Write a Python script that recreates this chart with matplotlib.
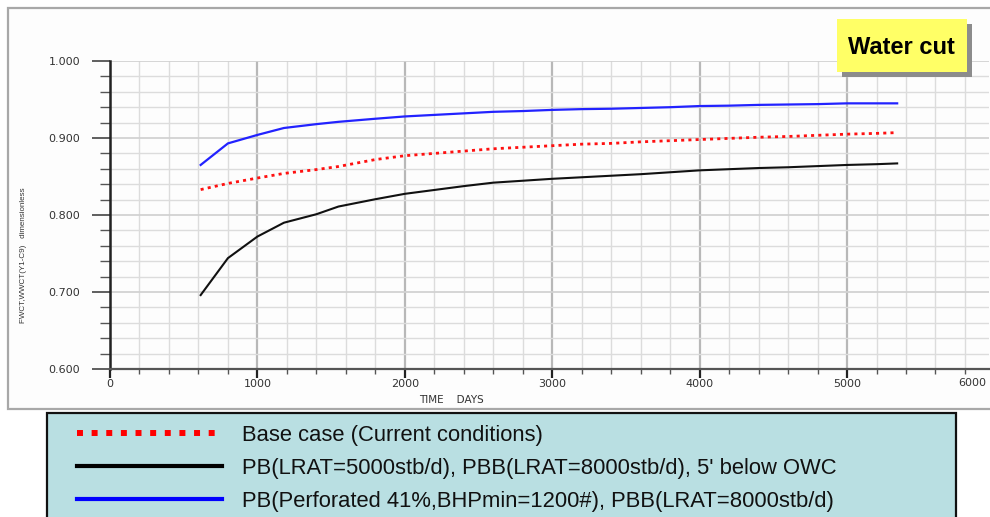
import matplotlib
matplotlib.use("Agg")
import matplotlib.pyplot as plt
from matplotlib.lines import Line2D
from matplotlib.patches import Rectangle
from matplotlib.ticker import MultipleLocator, FormatStrFormatter

# ---- data ----
days = [615, 800, 1000, 1180, 1400, 1550, 1800, 2000, 2200, 2400, 2600, 2800, 3000,
        3200, 3400, 3600, 3800, 4000, 4200, 4400, 4600, 4800, 5000, 5200, 5340]
base_case = [0.833, 0.841, 0.848, 0.854, 0.859, 0.863, 0.872, 0.877, 0.880, 0.883, 0.886,
             0.888, 0.890, 0.892, 0.893, 0.895, 0.8965, 0.898, 0.8995, 0.901, 0.902,
             0.9035, 0.905, 0.906, 0.907]
pb_lrat = [0.696, 0.744, 0.772, 0.790, 0.801, 0.811, 0.8205, 0.8275, 0.8325, 0.8375, 0.842,
           0.8445, 0.847, 0.849, 0.851, 0.853, 0.8555, 0.858, 0.8595, 0.861, 0.862,
           0.8635, 0.865, 0.866, 0.867]
pb_perf = [0.865, 0.893, 0.904, 0.913, 0.918, 0.921, 0.925, 0.928, 0.930, 0.932, 0.934,
           0.935, 0.9365, 0.9375, 0.938, 0.939, 0.940, 0.9415, 0.942, 0.943, 0.9435,
           0.944, 0.945, 0.945, 0.945]
series_labels = ["Base case (Current conditions)",
                 "PB(LRAT=5000stb/d), PBB(LRAT=8000stb/d), 5' below OWC",
                 "PB(Perforated 41%,BHPmin=1200#), PBB(LRAT=8000stb/d)"]
title_text = "Water cut"
x_label = "TIME    DAYS"
y_label = "FWCT,WWCT(Y1-C9)   dimensionless"

W, H = 990, 517
fig = plt.figure(figsize=(W / 100, H / 100), dpi=100)
fig.patch.set_facecolor("white")

def fx(px):
    return px / W

def fy(py):
    return 1 - py / H

# outer frame of the plot panel
fig.patches.append(Rectangle((fx(8), fy(409)), fx(1100), fy(8) - fy(409),
                             transform=fig.transFigure, facecolor="#FDFDFD",
                             edgecolor="#A8A8A8", lw=1.6, zorder=0))

ax = fig.add_axes([fx(110), fy(369), fx(989 - 110), fy(61) - fy(369)])
ax.set_zorder(3)
ax.set_facecolor("#FDFDFD")

ax.plot(days, pb_perf, color="#2222FF", lw=1.6, zorder=3)
ax.plot(days, base_case, color="#FF1010", lw=2.0, linestyle=(0, (1.1, 1.5)), zorder=3)
ax.plot(days, pb_lrat, color="#111111", lw=1.5, zorder=3)

ax.set_xlim(0, 5963)
ax.set_ylim(0.6, 1.0)
ax.xaxis.set_major_locator(MultipleLocator(1000))
ax.xaxis.set_minor_locator(MultipleLocator(200))
ax.yaxis.set_major_locator(MultipleLocator(0.1))
ax.yaxis.set_minor_locator(MultipleLocator(0.02))
ax.yaxis.set_major_formatter(FormatStrFormatter("%.3f"))

ax.grid(which="minor", color="#DCDCDC", lw=1.0, zorder=1)
ax.grid(which="major", axis="x", color="#B8B8B8", lw=1.6, zorder=1)
ax.grid(which="major", axis="y", color="#D2D2D2", lw=1.3, zorder=1)
ax.set_axisbelow(True)

for s in ["top", "right"]:
    ax.spines[s].set_visible(False)
ax.spines["left"].set_color("#222222")
ax.spines["left"].set_linewidth(1.8)
ax.spines["bottom"].set_color("#555555")
ax.spines["bottom"].set_linewidth(1.6)

ax.tick_params(axis="y", which="major", length=13, width=1.2, color="#444444",
               pad=8.5, labelsize=8, labelcolor="#333333")
ax.tick_params(axis="y", which="minor", length=7, width=1.0, color="#555555")
ax.tick_params(axis="x", which="major", length=6.5, width=1.6, color="#222222",
               pad=0.5, labelsize=8, labelcolor="#333333")
ax.tick_params(axis="x", which="minor", length=3.5, width=1.0, color="#555555")
for lab in ax.get_xticklabels() + ax.get_yticklabels():
    lab.set_family("DejaVu Sans")

# last tick label at the clipped right end
ax.text(0.997, -0.045, "6000", transform=ax.transAxes, ha="right", va="center",
        fontsize=8, color="#333333")

ax.set_xlabel(x_label, fontsize=7.5, color="#333333")
ax.xaxis.set_label_coords((451 - 110) / 879, -(400 - 369) / 308)
ax.xaxis.label.set_va("center")
ax.set_ylabel(y_label, fontsize=5.8, color="#333333",
              family=["Liberation Sans", "DejaVu Sans"])
ax.yaxis.set_label_coords(-(110 - 24) / 879, (369 - 255) / 308)
ax.yaxis.label.set_va("center")

# "Water cut" title box with shadow
fig.patches.append(Rectangle((fx(842), fy(77)), fx(967 - 837), fy(19) - fy(72),
                             transform=fig.transFigure, facecolor="#8C8C8C",
                             edgecolor="none", zorder=5))
fig.patches.append(Rectangle((fx(837), fy(72)), fx(967 - 837), fy(19) - fy(72),
                             transform=fig.transFigure, facecolor="#FFFF66",
                             edgecolor="none", zorder=6))
fig.text(fx(901), fy(47), title_text, ha="center", va="center", fontsize=17,
         fontweight="bold", color="black",
         family=["Liberation Sans", "DejaVu Sans"], zorder=7)

# legend panel
fig.patches.append(Rectangle((fx(47), fy(560)), fx(956 - 47), fy(413) - fy(560),
                             transform=fig.transFigure, facecolor="#B9DFE2",
                             edgecolor="#111111", lw=1.6, zorder=2))
handles = [Line2D([], [], color="#FF0000", lw=4.3, linestyle=(0, (1.0, 1.45))),
           Line2D([], [], color="#000000", lw=3.0),
           Line2D([], [], color="#0000FF", lw=3.0)]
leg = fig.legend(handles, series_labels, loc="upper left",
                 bbox_to_anchor=(fx(77), fy(425)), frameon=False,
                 prop={"family": "Liberation Sans", "size": 15.8},
                 handlelength=6.6, handletextpad=0.9, labelspacing=0.54,
                 borderpad=0, borderaxespad=0)
leg.set_zorder(4)
for t in leg.get_texts():
    t.set_color("#111111")

fig.savefig("out.png", dpi=100, facecolor=fig.get_facecolor())
